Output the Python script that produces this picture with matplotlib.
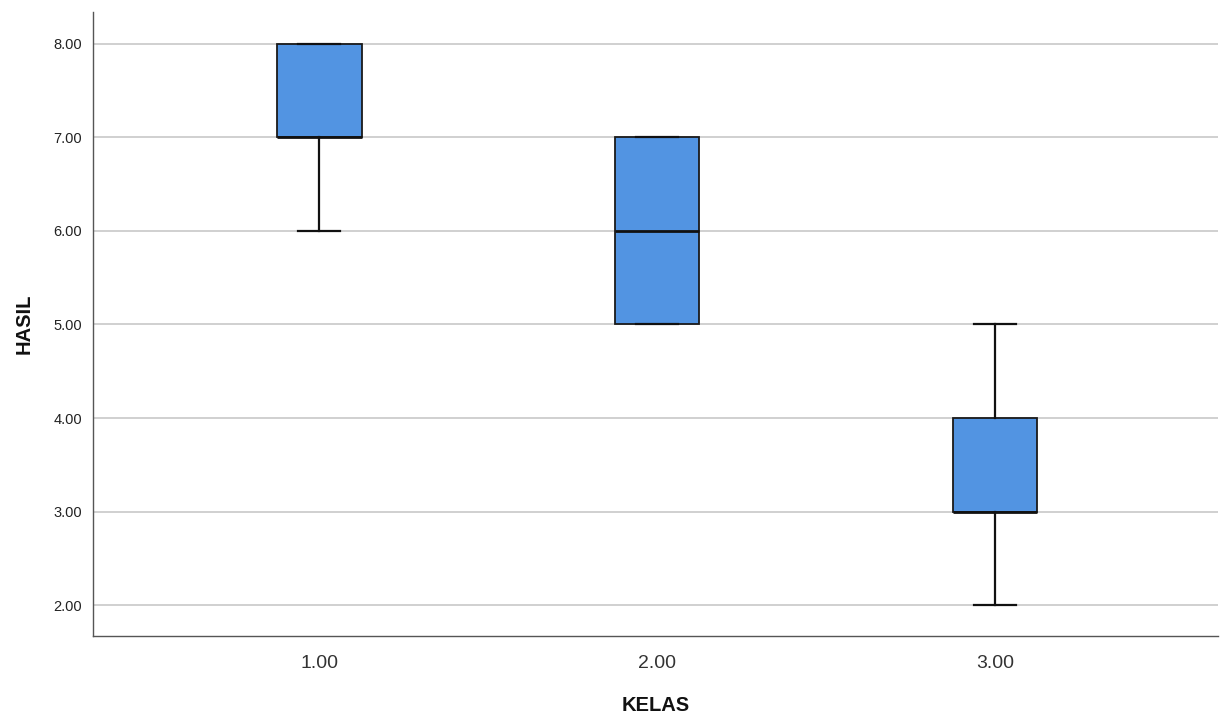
import matplotlib
matplotlib.use("Agg")
import matplotlib.pyplot as plt

plt.rcParams['font.family'] = ['Liberation Sans', 'DejaVu Sans']

categories = ["1.00", "2.00", "3.00"]
q1 = [7, 5, 3]
med = [7, 6, 3]
q3 = [8, 7, 4]
whislo = [6, 5, 2]
whishi = [8, 7, 5]
yticks = [2, 3, 4, 5, 6, 7, 8]

fig = plt.figure(figsize=(12.27, 7.2), dpi=100)
ax = fig.add_axes([0.0758, 0.1167, 0.9169, 0.8666])

stats = []
for i, c in enumerate(categories):
    stats.append(dict(label=c, q1=q1[i], med=med[i], q3=q3[i],
                      whislo=whislo[i], whishi=whishi[i], fliers=[]))

pos = [1, 2, 3]
ax.bxp(stats, positions=pos, widths=0.25, patch_artist=True, showfliers=False,
       boxprops=dict(facecolor="#5294E2", edgecolor="#1a1a1a", linewidth=1.3),
       medianprops=dict(color="#111111", linewidth=2),
       whiskerprops=dict(color="#111111", linewidth=1.6),
       capprops=dict(color="#111111", linewidth=1.6),
       capwidths=0.125, zorder=3)

ax.set_xlim(0.33, 3.66)
ax.set_ylim(1.67, 8.34)
ax.set_yticks(yticks)
ax.set_yticklabels([f"{v:.2f}" for v in yticks], fontsize=10.5, color="#222222")
ax.set_xticks(pos)
ax.set_xticklabels(categories, fontsize=14, color="#333333")
ax.tick_params(axis="both", length=0)
ax.tick_params(axis="y", pad=8)
ax.tick_params(axis="x", pad=14)
ax.yaxis.grid(True, color="#c8c8c8", linewidth=1.2, zorder=0)
ax.set_axisbelow(True)
for s in ["top", "right"]:
    ax.spines[s].set_visible(False)
for s in ["left", "bottom"]:
    ax.spines[s].set_color("#555555")
    ax.spines[s].set_linewidth(1.0)

ax.set_ylabel("HASIL", fontsize=14.5, fontweight="bold", color="#111111", labelpad=14)
ax.set_xlabel("KELAS", fontsize=14.5, fontweight="bold", color="#111111", labelpad=17)

fig.savefig("out.png", dpi=100)
